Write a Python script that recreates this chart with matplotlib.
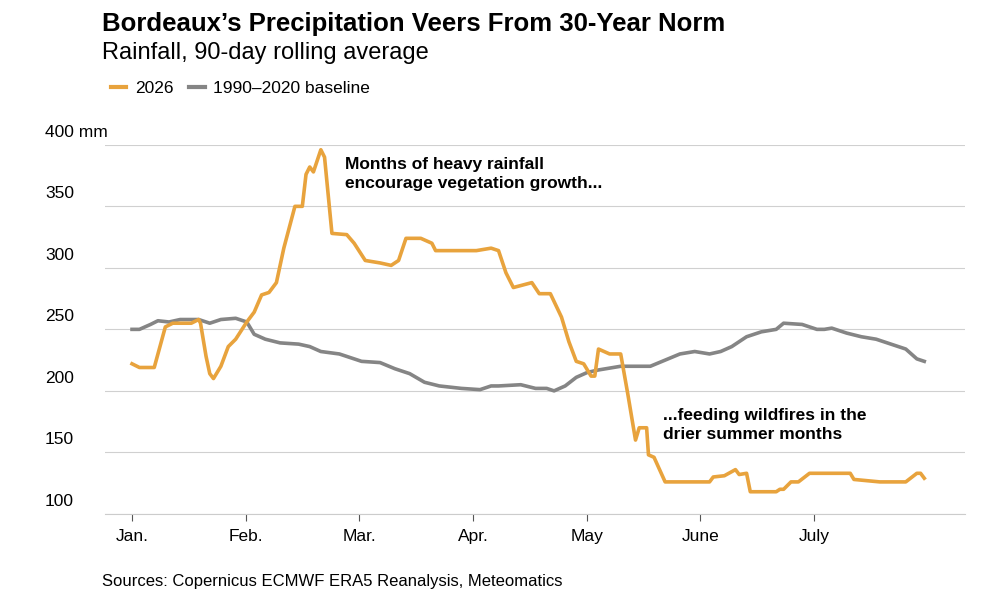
import matplotlib.pyplot as plt
import matplotlib.transforms as mtransforms
from matplotlib.lines import Line2D

plt.rcParams['font.family'] = ['Liberation Sans', 'DejaVu Sans']

# day of year (0 = Jan 1) and 90-day rolling rainfall, mm
days_2026 = [0, 2, 6, 9, 11, 16, 18, 18.5, 20, 21, 22, 24, 26, 28, 31, 33, 35, 37, 39, 41,
             44, 46, 47, 48, 49, 51, 52, 54, 58, 60, 63, 67, 70, 72, 74, 78, 81, 82, 93, 97,
             99, 101, 103, 108, 110, 113, 116, 118, 120, 122, 124, 125, 126, 129, 132, 134,
             136, 137, 139, 139.5, 141, 144, 151, 156, 157, 160, 163, 164, 166, 167, 170,
             174, 175, 176, 178, 180, 183, 185, 194, 195, 202, 209, 212, 213, 214]
rain_2026 = [222, 219, 219, 252, 255, 255, 258, 255, 228, 214, 210, 220, 236, 242, 256, 264,
             278, 280, 288, 316, 350, 350, 376, 382, 378, 396, 390, 328, 327, 320, 306, 304,
             302, 306, 324, 324, 320, 314, 314, 316, 314, 296, 284, 288, 279, 279, 260, 240,
             224, 222, 212, 212, 234, 230, 230, 196, 160, 170, 170, 148, 146, 126, 126, 126,
             130, 131, 136, 132, 133, 118, 118, 118, 120, 120, 126, 126, 133, 133, 133, 128,
             126, 126, 133, 133, 129]

days_base = [0, 2, 5, 7, 10, 13, 18, 21, 24, 28, 31, 33, 36, 40, 45, 48, 51, 56, 62, 67, 71,
             75, 79, 83, 89, 94, 97, 99, 105, 109, 112, 114, 117, 120, 123, 126, 132, 137,
             140, 144, 148, 152, 156, 159, 162, 166, 170, 174, 176, 181, 185, 187, 189, 193,
             197, 201, 205, 209, 212, 214]
rain_base = [250, 250, 254, 257, 256, 258, 258, 255, 258, 259, 256, 246, 242, 239, 238, 236,
             232, 230, 224, 223, 218, 214, 207, 204, 202, 201, 204, 204, 205, 202, 202, 200,
             204, 211, 215, 217, 220, 220, 220, 225, 230, 232, 230, 232, 236, 244, 248, 250,
             255, 254, 250, 250, 251, 247, 244, 242, 238, 234, 226, 224]

# month ticks are drawn evenly spaced in the source chart
month_ticks = [0, 30.7, 61.4, 92.1, 122.8, 153.5, 184.2]
month_labels = ['Jan.', 'Feb.', 'Mar.', 'Apr.', 'May', 'June', 'July']
yticks = [100, 150, 200, 250, 300, 350, 400]

orange = '#e8a33d'
grey = '#858585'

fig = plt.figure(figsize=(10, 6.06), dpi=100)
ax = fig.add_axes([0.105, 0.152, 0.86, 0.609])
ax.plot(days_base, rain_base, color=grey, lw=2.6)
ax.plot(days_2026, rain_2026, color=orange, lw=2.6)
ax.set_xlim(-7.3, 225)
ax.set_ylim(100, 400)

for s in ['top', 'right', 'left']:
    ax.spines[s].set_visible(False)
ax.spines['bottom'].set_color('#cccccc')
ax.set_yticks(yticks)
ax.set_yticklabels([])
ax.tick_params(axis='y', length=0)
ax.grid(axis='y', color='#d0d0d0', lw=0.8)
ax.set_axisbelow(True)
ax.set_xticks(month_ticks)
ax.set_xticklabels(month_labels, fontsize=12.5)
ax.tick_params(axis='x', length=5, color='#555555', pad=6)

trans = mtransforms.blended_transform_factory(fig.transFigure, ax.transData)
for v in yticks:
    lab = '400 mm' if v == 400 else str(v)
    ax.text(0.045, v + 4, lab, transform=trans, fontsize=12.5, va='bottom', ha='left')

ax.text(57.5, 390, 'Months of heavy rainfall\nencourage vegetation growth...',
        fontsize=12.5, fontweight='bold', va='top', linespacing=1.3)
ax.text(143.5, 186, '...feeding wildfires in the\ndrier summer months',
        fontsize=12.5, fontweight='bold', va='top', linespacing=1.3)

fig.text(0.102, 0.96, 'Bordeaux\u2019s Precipitation Veers From 30-Year Norm',
         fontsize=18.5, fontweight='bold', va='center')
fig.text(0.102, 0.913, 'Rainfall, 90-day rolling average', fontsize=17, va='center')
handles = [Line2D([], [], color=orange, lw=3), Line2D([], [], color=grey, lw=3)]
fig.legend(handles, ['2026', '1990\u20132020 baseline'], loc='center left',
           bbox_to_anchor=(0.095, 0.854), ncol=2, frameon=False, fontsize=12.5,
           handlelength=0.9, handletextpad=0.5, columnspacing=0.9)
fig.text(0.102, 0.04, 'Sources: Copernicus ECMWF ERA5 Reanalysis, Meteomatics',
         fontsize=12, va='center')

fig.savefig('out.png', dpi=100)
